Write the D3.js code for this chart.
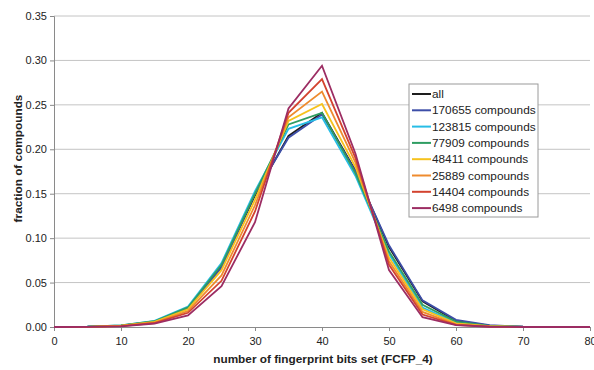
<!DOCTYPE html>
<html>
<head>
<meta charset="utf-8">
<script src="https://cdn.jsdelivr.net/npm/d3@7"></script>
<style>
  body { margin: 0; background: #fff; }
  text { font-family: "Liberation Sans", Arial, sans-serif; }
</style>
</head>
<body>
<div id="chart"></div>
<script>
const bits = [0, 5, 10, 15, 20, 25, 30, 35, 40, 45, 50, 55, 60, 65, 70, 75, 80];

const seriesNames = ["all", "170655 compounds", "123815 compounds", "77909 compounds",
    "48411 compounds", "25889 compounds", "14404 compounds", "6498 compounds"];

const allValues    = [0, 0.0003, 0.0015, 0.006, 0.021, 0.068, 0.148, 0.215, 0.241, 0.176, 0.090, 0.029, 0.007, 0.0015, 0.0003, 0, 0];
const values170655 = [0, 0.0003, 0.0015, 0.006, 0.021, 0.067, 0.150, 0.213, 0.239, 0.175, 0.092, 0.030, 0.008, 0.002, 0.0003, 0, 0];
const values123815 = [0, 0.0003, 0.0018, 0.007, 0.023, 0.072, 0.153, 0.223, 0.236, 0.170, 0.082, 0.022, 0.005, 0.001, 0.0002, 0, 0];
const values77909  = [0, 0.0003, 0.0017, 0.0065, 0.022, 0.070, 0.150, 0.228, 0.241, 0.173, 0.085, 0.025, 0.006, 0.0012, 0.0002, 0, 0];
const values48411  = [0, 0.0002, 0.0014, 0.0058, 0.020, 0.064, 0.143, 0.232, 0.251, 0.180, 0.078, 0.020, 0.004, 0.001, 0.0001, 0, 0];
const values25889  = [0, 0.0002, 0.0012, 0.005, 0.018, 0.058, 0.137, 0.236, 0.265, 0.185, 0.074, 0.017, 0.003, 0.0007, 0.0001, 0, 0];
const values14404  = [0, 0.0001, 0.001, 0.0045, 0.016, 0.052, 0.130, 0.241, 0.279, 0.190, 0.070, 0.014, 0.0025, 0.0005, 0, 0, 0];
const values6498   = [0, 0.0001, 0.0008, 0.0038, 0.013, 0.046, 0.118, 0.246, 0.294, 0.195, 0.064, 0.011, 0.002, 0.0003, 0, 0, 0];

const seriesValues = [allValues, values170655, values123815, values77909,
    values48411, values25889, values14404, values6498];

const colorList = ["#1e1e1e", "#3d4ea8", "#27bde6", "#2f9d62", "#f6c21d", "#ee8b2e", "#d3432f", "#9c2d63"];

const xTicks = [0, 10, 20, 30, 40, 50, 60, 70, 80];
const yTicks = [0, 0.05, 0.10, 0.15, 0.20, 0.25, 0.30, 0.35];

const width = 594, height = 370;
const margin = { top: 16, right: 4, bottom: 43, left: 54 };

const svg = d3.select("#chart").append("svg")
    .attr("width", width)
    .attr("height", height);

const x = d3.scaleLinear().domain([0, 80]).range([margin.left, width - margin.right]);
const y = d3.scaleLinear().domain([0, 0.35]).range([height - margin.bottom, margin.top]);

// gridlines
svg.append("g")
    .selectAll("line")
    .data(yTicks.slice(1))
    .enter().append("line")
    .attr("x1", margin.left)
    .attr("x2", width - margin.right)
    .attr("y1", d => y(d))
    .attr("y2", d => y(d))
    .attr("stroke", "#c4c4c4")
    .attr("stroke-width", 1);

// axes
const yAxis = svg.append("g")
    .attr("transform", `translate(${margin.left},0)`)
    .call(d3.axisLeft(y).tickValues(yTicks).tickFormat(d3.format(".2f")).tickSize(4).tickPadding(3));

const xAxis = svg.append("g")
    .attr("transform", `translate(0,${height - margin.bottom})`)
    .call(d3.axisBottom(x).tickValues(xTicks).tickSize(4).tickPadding(6));

[xAxis, yAxis].forEach(g => {
    g.selectAll("path, line").attr("stroke", "#8a8a8a");
    g.selectAll("text")
        .style("font-size", "11px")
        .style("fill", "#222");
});

// lines
const line = d3.line()
    .x((d, i) => x(bits[i]))
    .y(d => y(d));

svg.append("g")
    .selectAll("path")
    .data(seriesValues)
    .enter().append("path")
    .attr("d", d => line(d))
    .attr("fill", "none")
    .attr("stroke", (d, i) => colorList[i])
    .attr("stroke-width", 1.8)
    .attr("stroke-linejoin", "miter");

// axis titles
svg.append("text")
    .attr("x", (margin.left + width - margin.right) / 2 + 1)
    .attr("y", 363)
    .attr("text-anchor", "middle")
    .style("font-size", "11.8px")
    .style("font-weight", "bold")
    .style("fill", "#222")
    .text("number of fingerprint bits set (FCFP_4)");

svg.append("text")
    .attr("transform", `translate(22, ${(margin.top + height - margin.bottom) / 2 - 13}) rotate(-90)`)
    .attr("text-anchor", "middle")
    .style("font-size", "11.8px")
    .style("font-weight", "bold")
    .style("fill", "#222")
    .text("fraction of compounds");

// legend
const legend = svg.append("g").attr("transform", "translate(409, 84)");

legend.append("rect")
    .attr("width", 129)
    .attr("height", 133)
    .attr("fill", "#fff")
    .attr("stroke", "#9a9a9a");

const legendRows = legend.selectAll("g.row")
    .data(seriesNames)
    .enter().append("g")
    .attr("class", "row")
    .attr("transform", (d, i) => `translate(0, ${10 + i * 16.3})`);

legendRows.append("line")
    .attr("x1", 3)
    .attr("x2", 22)
    .attr("stroke", (d, i) => colorList[i])
    .attr("stroke-width", 2);

legendRows.append("text")
    .attr("x", 23)
    .attr("dy", "0.35em")
    .style("font-size", "11.8px")
    .style("fill", "#222")
    .text(d => d);
</script>
</body>
</html>
